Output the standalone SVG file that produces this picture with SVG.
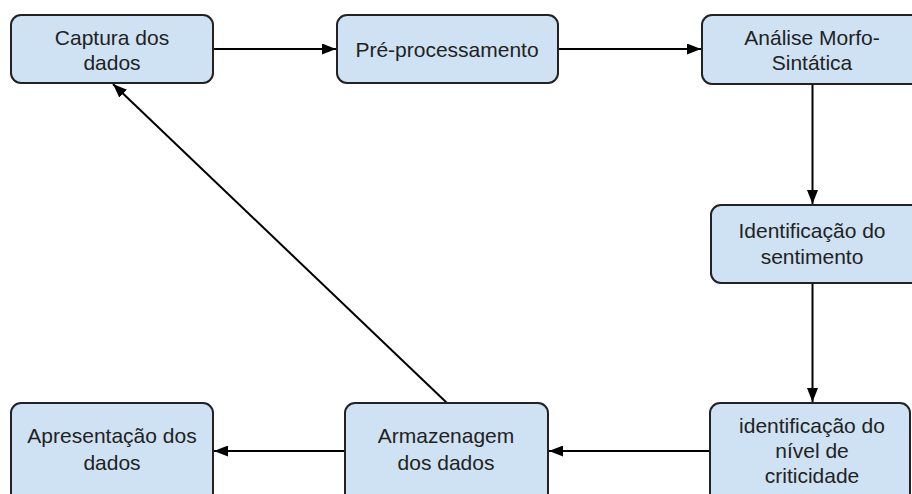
<svg xmlns="http://www.w3.org/2000/svg" width="912" height="494" viewBox="0 0 912 494">
<defs>
<style>
.box{fill:#cfe2f3;stroke:#222;stroke-width:2}
.t{font-family:"Liberation Sans",Arial,sans-serif;font-size:21px;fill:#222;text-anchor:middle}
.c{stroke:#000;stroke-width:2;fill:none;marker-end:url(#ah)}
</style>
<marker id="ah" markerWidth="14" markerHeight="11" refX="14" refY="5.5" orient="auto" markerUnits="userSpaceOnUse">
<path d="M0,0 L14,5.5 L0,11 Z" fill="#000"/>
</marker>
</defs>
<rect width="912" height="494" fill="#fff"/>
<g id="connectors">
<line class="c" x1="214" y1="49" x2="336" y2="49"/>
<line class="c" x1="559" y1="49" x2="701" y2="49"/>
<line class="c" x1="812.5" y1="84" x2="812.5" y2="204"/>
<line class="c" x1="812.5" y1="284" x2="812.5" y2="402"/>
<line class="c" x1="710" y1="451" x2="549" y2="451"/>
<line class="c" x1="345" y1="451" x2="214" y2="451"/>
<line class="c" x1="447" y1="403" x2="113" y2="84"/>
</g>
<g id="captura">
<rect class="box" x="11" y="15" width="202" height="68" rx="10"/>
<text class="t" x="112" y="45">Captura dos</text>
<text class="t" x="112" y="70">dados</text>
</g>
<g id="preprocessamento">
<rect class="box" x="337" y="15" width="221" height="68" rx="10"/>
<text class="t" x="447" y="57">Pré-processamento</text>
</g>
<g id="analise">
<rect class="box" x="702" y="15" width="220" height="69" rx="10"/>
<text class="t" x="812" y="45">Análise Morfo-</text>
<text class="t" x="812" y="70">Sintática</text>
</g>
<g id="sentimento">
<rect class="box" x="711" y="205" width="210" height="78" rx="10"/>
<text class="t" x="812" y="238">Identificação do</text>
<text class="t" x="812" y="264">sentimento</text>
</g>
<g id="criticidade">
<rect class="box" x="710" y="403" width="200" height="100" rx="10"/>
<text class="t" x="812" y="433">identificação do</text>
<text class="t" x="812" y="458">nível de</text>
<text class="t" x="812" y="483">criticidade</text>
</g>
<g id="armazenagem">
<rect class="box" x="345" y="403" width="203" height="100" rx="10"/>
<text class="t" x="446" y="443">Armazenagem</text>
<text class="t" x="446" y="470">dos dados</text>
</g>
<g id="apresentacao">
<rect class="box" x="11" y="403" width="202" height="100" rx="10"/>
<text class="t" x="112" y="443">Apresentação dos</text>
<text class="t" x="112" y="470">dados</text>
</g>
</svg>
